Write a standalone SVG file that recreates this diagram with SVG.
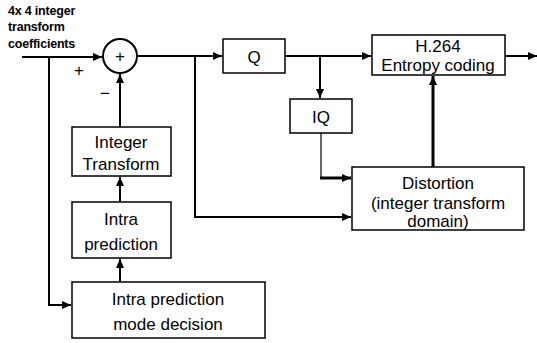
<svg xmlns="http://www.w3.org/2000/svg" width="537" height="343" viewBox="0 0 537 343">
<defs>
<marker id="ah" viewBox="0 0 10 10" refX="10" refY="5" markerWidth="9" markerHeight="8" orient="auto" markerUnits="userSpaceOnUse" preserveAspectRatio="none">
<path d="M0,0 L10,5 L0,10 z" fill="#000"/>
</marker>
<style>
.box{fill:#fff;stroke:#000;stroke-width:1.5}
.t{font-family:"Liberation Sans",Arial,sans-serif;font-size:17px;text-anchor:middle;fill:#000}
.s{font-family:"Liberation Sans",Arial,sans-serif;font-size:12.5px;font-weight:bold;fill:#000;letter-spacing:-0.2px}
.c{fill:none;stroke:#000;stroke-width:2}
.k{fill:none;stroke:#000;stroke-width:3}
</style>
</defs>
<rect width="537" height="343" fill="#fff"/>
<g id="connectors">
<path class="c" d="M22,57 H102" marker-end="url(#ah)"/>
<path class="c" d="M49,57 V305 H71" marker-end="url(#ah)"/>
<path class="c" d="M120,127 V74" marker-end="url(#ah)"/>
<path class="c" d="M137,56 H222" marker-end="url(#ah)"/>
<path class="c" d="M195,56 V217 H351" marker-end="url(#ah)"/>
<path class="c" d="M285,56 H371" marker-end="url(#ah)"/>
<path class="c" d="M320,56 V98" marker-end="url(#ah)"/>
<path fill="none" stroke="#000" stroke-width="1.2" d="M321,133 V178"/>
<path class="k" d="M320,178 H351" marker-end="url(#ah)"/>
<path class="k" d="M433,167 V76" marker-end="url(#ah)"/>
<path class="c" d="M505,56 H537" marker-end="url(#ah)"/>
<path class="c" d="M120,202 V177" marker-end="url(#ah)"/>
<path class="c" d="M120,282 V259" marker-end="url(#ah)"/>
</g>
<g id="input-label">
<text class="s" x="8" y="15">4x 4 integer</text>
<text class="s" x="8" y="31">transform</text>
<text class="s" x="8" y="48">coefficients</text>
</g>
<g id="sum">
<circle cx="120" cy="56" r="17" fill="#fff" stroke="#000" stroke-width="2"/>
<text class="t" x="120" y="62" font-size="15">+</text>
<text class="t" x="79" y="76" font-size="15">+</text>
<text class="t" x="105" y="99" font-size="16">−</text>
</g>
<g id="q">
<rect class="box" x="223" y="39" width="62" height="34"/>
<text class="t" x="254" y="63" font-size="18">Q</text>
</g>
<g id="iq">
<rect class="box" x="290" y="99" width="62" height="34"/>
<text class="t" x="321" y="123" font-size="18">IQ</text>
</g>
<g id="entropy">
<rect class="box" x="372" y="35" width="133" height="40"/>
<text class="t" x="438" y="52">H.264</text>
<text class="t" x="438" y="71">Entropy coding</text>
</g>
<g id="distortion">
<rect class="box" x="352" y="167" width="172" height="63"/>
<text class="t" x="438" y="189" font-size="18">Distortion</text>
<text class="t" x="438" y="209" font-size="14">(integer transform</text>
<text class="t" x="438" y="227" font-size="14">domain)</text>
</g>
<g id="integer-transform">
<rect class="box" x="72" y="127" width="99" height="49"/>
<text class="t" x="121" y="148">Integer</text>
<text class="t" x="121" y="170">Transform</text>
</g>
<g id="intra-prediction">
<rect class="box" x="72" y="202" width="99" height="56"/>
<text class="t" x="121" y="225">Intra</text>
<text class="t" x="121" y="250">prediction</text>
</g>
<g id="mode-decision">
<rect class="box" x="72" y="282" width="193" height="56"/>
<text class="t" x="168" y="305">Intra prediction</text>
<text class="t" x="168" y="330">mode decision</text>
</g>
</svg>
